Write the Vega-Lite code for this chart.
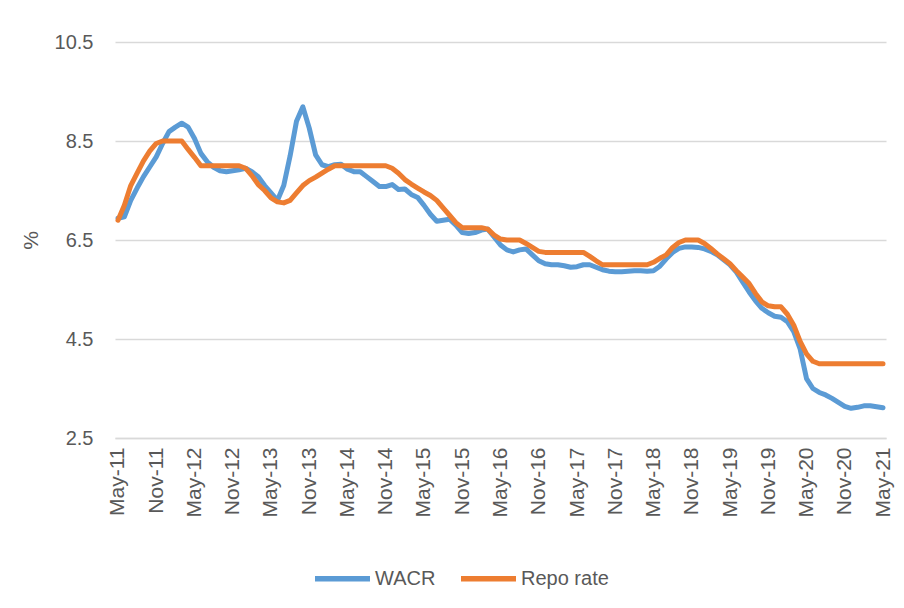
{
  "$schema": "https://vega.github.io/schema/vega-lite/v6.json",
  "width": 771,
  "height": 396,
  "autosize": {"type": "none"},
  "padding": {"left": 115, "top": 42, "right": 18, "bottom": 170},
  "background": "white",
  "config": {"view": {"stroke": null}, "font": "Liberation Sans"},
  "data": {"values": [
    {"month":"May-11","WACR":6.94,"Repo rate":6.9},
    {"month":"Jun-11","WACR":6.97,"Repo rate":7.2},
    {"month":"Jul-11","WACR":7.3,"Repo rate":7.6},
    {"month":"Aug-11","WACR":7.55,"Repo rate":7.85},
    {"month":"Sep-11","WACR":7.78,"Repo rate":8.1},
    {"month":"Oct-11","WACR":7.98,"Repo rate":8.3},
    {"month":"Nov-11","WACR":8.18,"Repo rate":8.45},
    {"month":"Dec-11","WACR":8.45,"Repo rate":8.5},
    {"month":"Jan-12","WACR":8.69,"Repo rate":8.5},
    {"month":"Feb-12","WACR":8.78,"Repo rate":8.5},
    {"month":"Mar-12","WACR":8.86,"Repo rate":8.5},
    {"month":"Apr-12","WACR":8.78,"Repo rate":8.33},
    {"month":"May-12","WACR":8.55,"Repo rate":8.17},
    {"month":"Jun-12","WACR":8.25,"Repo rate":8.0},
    {"month":"Jul-12","WACR":8.08,"Repo rate":8.0},
    {"month":"Aug-12","WACR":7.97,"Repo rate":8.0},
    {"month":"Sep-12","WACR":7.9,"Repo rate":8.0},
    {"month":"Oct-12","WACR":7.88,"Repo rate":8.0},
    {"month":"Nov-12","WACR":7.9,"Repo rate":8.0},
    {"month":"Dec-12","WACR":7.92,"Repo rate":8.0},
    {"month":"Jan-13","WACR":7.95,"Repo rate":7.95},
    {"month":"Feb-13","WACR":7.88,"Repo rate":7.8},
    {"month":"Mar-13","WACR":7.78,"Repo rate":7.62},
    {"month":"Apr-13","WACR":7.6,"Repo rate":7.5},
    {"month":"May-13","WACR":7.45,"Repo rate":7.35},
    {"month":"Jun-13","WACR":7.3,"Repo rate":7.27},
    {"month":"Jul-13","WACR":7.6,"Repo rate":7.25},
    {"month":"Aug-13","WACR":8.2,"Repo rate":7.3},
    {"month":"Sep-13","WACR":8.9,"Repo rate":7.45},
    {"month":"Oct-13","WACR":9.19,"Repo rate":7.6},
    {"month":"Nov-13","WACR":8.76,"Repo rate":7.7},
    {"month":"Dec-13","WACR":8.22,"Repo rate":7.77},
    {"month":"Jan-14","WACR":8.02,"Repo rate":7.85},
    {"month":"Feb-14","WACR":7.98,"Repo rate":7.93},
    {"month":"Mar-14","WACR":8.02,"Repo rate":8.0},
    {"month":"Apr-14","WACR":8.03,"Repo rate":8.0},
    {"month":"May-14","WACR":7.93,"Repo rate":8.0},
    {"month":"Jun-14","WACR":7.88,"Repo rate":8.0},
    {"month":"Jul-14","WACR":7.88,"Repo rate":8.0},
    {"month":"Aug-14","WACR":7.78,"Repo rate":8.0},
    {"month":"Sep-14","WACR":7.68,"Repo rate":8.0},
    {"month":"Oct-14","WACR":7.58,"Repo rate":8.0},
    {"month":"Nov-14","WACR":7.58,"Repo rate":8.0},
    {"month":"Dec-14","WACR":7.62,"Repo rate":7.95},
    {"month":"Jan-15","WACR":7.52,"Repo rate":7.85},
    {"month":"Feb-15","WACR":7.53,"Repo rate":7.72},
    {"month":"Mar-15","WACR":7.42,"Repo rate":7.63},
    {"month":"Apr-15","WACR":7.36,"Repo rate":7.55},
    {"month":"May-15","WACR":7.2,"Repo rate":7.47},
    {"month":"Jun-15","WACR":7.02,"Repo rate":7.4},
    {"month":"Jul-15","WACR":6.88,"Repo rate":7.3},
    {"month":"Aug-15","WACR":6.9,"Repo rate":7.15},
    {"month":"Sep-15","WACR":6.92,"Repo rate":7.0},
    {"month":"Oct-15","WACR":6.8,"Repo rate":6.85},
    {"month":"Nov-15","WACR":6.65,"Repo rate":6.75},
    {"month":"Dec-15","WACR":6.63,"Repo rate":6.75},
    {"month":"Jan-16","WACR":6.65,"Repo rate":6.75},
    {"month":"Feb-16","WACR":6.7,"Repo rate":6.75},
    {"month":"Mar-16","WACR":6.72,"Repo rate":6.72},
    {"month":"Apr-16","WACR":6.56,"Repo rate":6.6},
    {"month":"May-16","WACR":6.4,"Repo rate":6.52},
    {"month":"Jun-16","WACR":6.3,"Repo rate":6.5},
    {"month":"Jul-16","WACR":6.26,"Repo rate":6.5},
    {"month":"Aug-16","WACR":6.3,"Repo rate":6.5},
    {"month":"Sep-16","WACR":6.32,"Repo rate":6.43},
    {"month":"Oct-16","WACR":6.2,"Repo rate":6.35},
    {"month":"Nov-16","WACR":6.08,"Repo rate":6.27},
    {"month":"Dec-16","WACR":6.02,"Repo rate":6.25},
    {"month":"Jan-17","WACR":6.0,"Repo rate":6.25},
    {"month":"Feb-17","WACR":6.0,"Repo rate":6.25},
    {"month":"Mar-17","WACR":5.98,"Repo rate":6.25},
    {"month":"Apr-17","WACR":5.95,"Repo rate":6.25},
    {"month":"May-17","WACR":5.96,"Repo rate":6.25},
    {"month":"Jun-17","WACR":6.0,"Repo rate":6.25},
    {"month":"Jul-17","WACR":6.0,"Repo rate":6.17},
    {"month":"Aug-17","WACR":5.95,"Repo rate":6.08},
    {"month":"Sep-17","WACR":5.9,"Repo rate":6.0},
    {"month":"Oct-17","WACR":5.87,"Repo rate":6.0},
    {"month":"Nov-17","WACR":5.86,"Repo rate":6.0},
    {"month":"Dec-17","WACR":5.86,"Repo rate":6.0},
    {"month":"Jan-18","WACR":5.87,"Repo rate":6.0},
    {"month":"Feb-18","WACR":5.88,"Repo rate":6.0},
    {"month":"Mar-18","WACR":5.88,"Repo rate":6.0},
    {"month":"Apr-18","WACR":5.87,"Repo rate":6.0},
    {"month":"May-18","WACR":5.88,"Repo rate":6.05},
    {"month":"Jun-18","WACR":5.97,"Repo rate":6.13},
    {"month":"Jul-18","WACR":6.12,"Repo rate":6.2},
    {"month":"Aug-18","WACR":6.25,"Repo rate":6.35},
    {"month":"Sep-18","WACR":6.33,"Repo rate":6.45},
    {"month":"Oct-18","WACR":6.36,"Repo rate":6.5},
    {"month":"Nov-18","WACR":6.36,"Repo rate":6.5},
    {"month":"Dec-18","WACR":6.35,"Repo rate":6.5},
    {"month":"Jan-19","WACR":6.32,"Repo rate":6.43},
    {"month":"Feb-19","WACR":6.27,"Repo rate":6.33},
    {"month":"Mar-19","WACR":6.2,"Repo rate":6.22},
    {"month":"Apr-19","WACR":6.1,"Repo rate":6.12},
    {"month":"May-19","WACR":6.0,"Repo rate":6.02},
    {"month":"Jun-19","WACR":5.85,"Repo rate":5.88},
    {"month":"Jul-19","WACR":5.65,"Repo rate":5.75},
    {"month":"Aug-19","WACR":5.45,"Repo rate":5.62},
    {"month":"Sep-19","WACR":5.27,"Repo rate":5.42},
    {"month":"Oct-19","WACR":5.12,"Repo rate":5.25},
    {"month":"Nov-19","WACR":5.03,"Repo rate":5.17},
    {"month":"Dec-19","WACR":4.96,"Repo rate":5.15},
    {"month":"Jan-20","WACR":4.94,"Repo rate":5.15},
    {"month":"Feb-20","WACR":4.85,"Repo rate":5.0},
    {"month":"Mar-20","WACR":4.65,"Repo rate":4.78},
    {"month":"Apr-20","WACR":4.3,"Repo rate":4.45},
    {"month":"May-20","WACR":3.7,"Repo rate":4.2},
    {"month":"Jun-20","WACR":3.5,"Repo rate":4.05},
    {"month":"Jul-20","WACR":3.42,"Repo rate":4.0},
    {"month":"Aug-20","WACR":3.37,"Repo rate":4.0},
    {"month":"Sep-20","WACR":3.3,"Repo rate":4.0},
    {"month":"Oct-20","WACR":3.22,"Repo rate":4.0},
    {"month":"Nov-20","WACR":3.14,"Repo rate":4.0},
    {"month":"Dec-20","WACR":3.1,"Repo rate":4.0},
    {"month":"Jan-21","WACR":3.12,"Repo rate":4.0},
    {"month":"Feb-21","WACR":3.15,"Repo rate":4.0},
    {"month":"Mar-21","WACR":3.15,"Repo rate":4.0},
    {"month":"Apr-21","WACR":3.13,"Repo rate":4.0},
    {"month":"May-21","WACR":3.11,"Repo rate":4.0}
  ]},
  "transform": [{"fold": ["WACR", "Repo rate"], "as": ["series", "value"]}],
  "encoding": {
    "x": {
      "field": "month", "type": "ordinal", "sort": null,
      "scale": {"type": "point", "padding": 0.47},
      "axis": {
        "title": null,
        "values": ["May-11","Nov-11","May-12","Nov-12","May-13","Nov-13","May-14","Nov-14","May-15","Nov-15","May-16","Nov-16","May-17","Nov-17","May-18","Nov-18","May-19","Nov-19","May-20","Nov-20","May-21"],
        "labelAngle": -90, "labelFontSize": 21, "labelColor": "#595959", "labelPadding": 9,
        "ticks": false, "grid": false, "domainColor": "#D9D9D9", "domainWidth": 1.3
      }
    },
    "y": {
      "field": "value", "type": "quantitative",
      "scale": {"domain": [2.5, 10.5], "nice": false, "zero": false},
      "axis": {
        "title": "%", "titleFontSize": 21, "titleColor": "#595959", "titleFontWeight": "normal", "titlePadding": 13,
        "values": [2.5, 4.5, 6.5, 8.5, 10.5], "format": ".1f",
        "labelFontSize": 20, "labelColor": "#595959", "labelPadding": 22,
        "ticks": false, "domain": false, "grid": true, "gridColor": "#D9D9D9", "gridWidth": 1.3
      }
    },
    "color": {
      "field": "series", "type": "nominal",
      "scale": {"domain": ["WACR", "Repo rate"], "range": ["#5B9BD5", "#ED7D31"]},
      "legend": {
        "title": null, "orient": "none", "legendX": 197, "legendY": 506, "direction": "horizontal",
        "symbolType": "stroke", "symbolSize": 3025, "symbolStrokeWidth": 5.5,
        "labelFontSize": 20, "labelColor": "#595959", "labelOffset": 2, "columnPadding": 14
      }
    }
  },
  "layer": [
    {"transform": [{"filter": "datum.series === 'WACR'"}],
     "mark": {"type": "line", "strokeWidth": 5, "strokeJoin": "round", "strokeCap": "round"}},
    {"transform": [{"filter": "datum.series === 'Repo rate'"}],
     "mark": {"type": "line", "strokeWidth": 5, "strokeJoin": "round", "strokeCap": "round"}}
  ]
}
